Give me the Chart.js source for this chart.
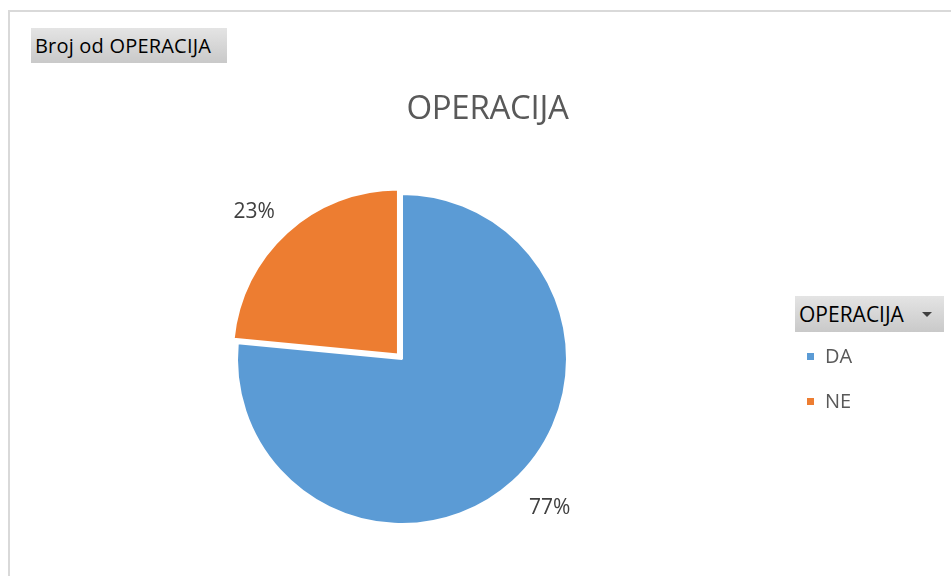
<!DOCTYPE html>
<html>
<head>
<meta charset="utf-8">
<script src="https://cdn.jsdelivr.net/npm/chart.js@4.4.1/dist/chart.umd.min.js"></script>
<style>
  html, body { margin: 0; padding: 0; background: #fff; }
  body { width: 951px; height: 576px; position: relative; overflow: hidden; font-family: "Open Sans", sans-serif; }
  .frame { position: absolute; left: 8px; top: 10px; width: 1000px; height: 1000px; border-left: 2px solid #d9d9d9; border-top: 2px solid #d9d9d9; }
  .pivot-btn { position: absolute; background: linear-gradient(#e4e4e4, #c9c9c9); color: #000; box-sizing: border-box; white-space: nowrap; }
  .field-btn { left: 31px; top: 28px; width: 196px; height: 35px; font-size: 20px; line-height: 35px; padding-left: 4px; letter-spacing: 0.2px; }
  .legend-btn { left: 795px; top: 296px; width: 149px; height: 36px; font-size: 21px; line-height: 36px; padding-left: 4px; letter-spacing: 0; }
  .legend-btn .arrow { position: absolute; left: 127px; top: 16px; width: 0; height: 0; border-left: 5px solid transparent; border-right: 5px solid transparent; border-top: 5px solid #404040; }
  .title { position: absolute; left: 0; width: 975px; top: 84px; text-align: center; font-size: 33px; color: #595959; line-height: 46px; letter-spacing: -0.3px; }
  .legend-item { position: absolute; left: 807px; font-size: 20px; color: #595959; line-height: 24px; }
  .legend-item .box { display: inline-block; width: 7px; height: 7px; margin-right: 11px; vertical-align: 3px; }
  #wrap { position: absolute; left: 0; top: 0; width: 951px; height: 576px; }
</style>
</head>
<body>
<div class="frame"></div>
<div id="wrap"><canvas id="pie"></canvas></div>
<div class="title">OPERACIJA</div>
<div class="pivot-btn field-btn">Broj od OPERACIJA</div>
<div class="pivot-btn legend-btn">OPERACIJA<span class="arrow"></span></div>
<div id="legend"></div>
<script>
const categories = ["DA", "NE"];
const counts = [75, 23];
const sliceColors = ["#5B9BD5", "#ED7D31"];
// Chart.js moves an arc by offset / 4, so 24 gives about 6px of explosion
const sliceOffsets = [0, 24];

// legend entries
const legendTops = [344, 389];
const legendBox = document.getElementById("legend");
categories.forEach((name, i) => {
  const item = document.createElement("div");
  item.className = "legend-item";
  item.style.top = legendTops[i] + "px";
  item.innerHTML = `<span class="box" style="background:${sliceColors[i]}"></span>${name}`;
  legendBox.appendChild(item);
});

// percent labels outside each slice, corner anchored near the arc
const outsideLabels = {
  id: "outsideLabels",
  afterDatasetsDraw(chart) {
    const ctx = chart.ctx;
    const meta = chart.getDatasetMeta(0);
    const total = counts.reduce((a, b) => a + b, 0);
    ctx.save();
    ctx.font = '21px "Open Sans"';
    ctx.fillStyle = "#404040";
    ctx.textAlign = "center";
    ctx.textBaseline = "middle";
    meta.data.forEach((arc, i) => {
      const p = arc.getProps(["x", "y", "startAngle", "endAngle", "outerRadius"], true);
      const mid = (p.startAngle + p.endAngle) / 2;
      const dx = Math.cos(mid);
      const dy = Math.sin(mid);
      const dist = p.outerRadius + 24;
      const text = Math.round((counts[i] / total) * 100) + "%";
      const w = ctx.measureText(text).width;
      const h = 16;
      const x = p.x + dx * dist + (dx < 0 ? -w / 2 : w / 2);
      const y = p.y + dy * dist + (dy < 0 ? -h / 2 : h / 2);
      ctx.fillText(text, x, y + 1);
    });
    ctx.restore();
  },
};

new Chart(document.getElementById("pie"), {
  type: "pie",
  data: {
    labels: categories,
    datasets: [{
      data: counts,
      backgroundColor: sliceColors,
      borderColor: "#ffffff",
      borderWidth: 2,
      offset: sliceOffsets,
      hoverOffset: 0,
    }],
  },
  options: {
    responsive: true,
    maintainAspectRatio: false,
    animation: false,
    radius: 165,
    layout: { padding: { left: 62, right: 209, top: 178, bottom: 36 } },
    plugins: {
      legend: { display: false },
      title: { display: false },
      tooltip: { enabled: false },
    },
  },
  plugins: [outsideLabels],
});
</script>
</body>
</html>
